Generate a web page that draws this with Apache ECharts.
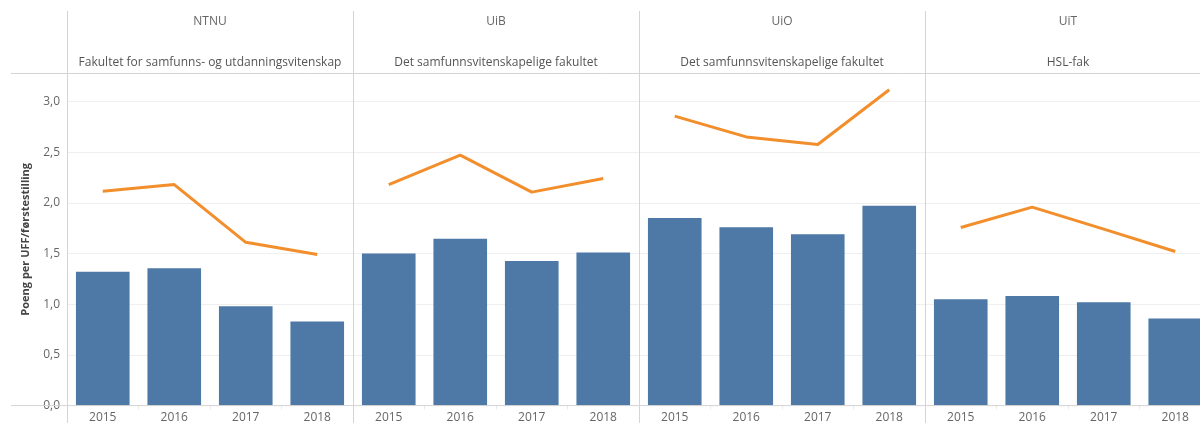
<!DOCTYPE html>
<html>
<head>
<meta charset="utf-8">
<script src="https://cdn.jsdelivr.net/npm/echarts@6/dist/echarts.min.js"></script>
<style>
  html, body { margin: 0; padding: 0; background: #fff; }
  #chart { width: 1200px; height: 423px; }
</style>
</head>
<body>
<div id="chart"></div>
<script>
// data
const institutions = ['NTNU', 'UiB', 'UiO', 'UiT']
const faculties = [
  'Fakultet for samfunns- og utdanningsvitenskap',
  'Det samfunnsvitenskapelige fakultet',
  'Det samfunnsvitenskapelige fakultet',
  'HSL-fak'
]
const years = ['2015', '2016', '2017', '2018']
// bars (blue)
const barNTNU = [1.32, 1.355, 0.98, 0.83]
const barUiB = [1.50, 1.645, 1.425, 1.51]
const barUiO = [1.85, 1.76, 1.69, 1.97]
const barUiT = [1.05, 1.08, 1.02, 0.86]
// line (orange)
const lineNTNU = [2.115, 2.18, 1.61, 1.49]
const lineUiB = [2.18, 2.47, 2.105, 2.24]
const lineUiO = [2.855, 2.65, 2.575, 3.115]
const lineUiT = [1.756, 1.957, 1.74, 1.52]
const yTicks = [0, 0.5, 1, 1.5, 2, 2.5, 3]

const bars = [barNTNU, barUiB, barUiO, barUiT]
const lines = [lineNTNU, lineUiB, lineUiO, lineUiT]

const chart = echarts.init(document.getElementById('chart'))

const panelLeft = 67
const panelWidth = 286
const plotTop = 73
const plotBottom = 405.6
const font = '"Open Sans", sans-serif'

const grids = []
const xAxes = []
const yAxes = []
const series = []
const graphics = []

institutions.forEach((inst, i) => {
  const left = panelLeft + i * panelWidth
  grids.push({
    left: left,
    top: plotTop,
    width: panelWidth,
    height: plotBottom - plotTop,
    // last panel runs past the right edge, like the reference
    outerBoundsMode: 'none',
    containLabel: false
  })
  xAxes.push({
    type: 'category',
    gridIndex: i,
    data: years,
    axisLine: { show: false },
    axisTick: { show: true, length: 4, lineStyle: { color: '#ececec' } },
    axisLabel: { color: '#666', fontSize: 12, fontFamily: font, margin: 6 }
  })
  yAxes.push({
    type: 'value',
    gridIndex: i,
    min: 0,
    max: 3.28,
    interval: 0.5,
    axisLine: { show: false },
    axisTick: { show: false },
    splitLine: {
      lineStyle: { color: '#efefef' }
    },
    axisLabel: {
      show: i === 0,
      showMaxLabel: false,
      color: '#666',
      fontSize: 12,
      fontFamily: font,
      margin: 7,
      formatter: v => (yTicks.indexOf(v) >= 0 ? v.toFixed(1).replace('.', ',') : '')
    },
    name: i === 0 ? 'Poeng per UFF/førstestilling' : '',
    nameLocation: 'middle',
    nameGap: 36,
    nameTextStyle: { color: '#444', fontSize: 11, fontWeight: 'bold', fontFamily: font }
  })
  series.push({
    name: 'bar',
    type: 'bar',
    xAxisIndex: i,
    yAxisIndex: i,
    data: bars[i],
    barCategoryGap: '25%',
    itemStyle: { color: '#4e79a7' },
    silent: true
  })
  series.push({
    name: 'line',
    type: 'line',
    xAxisIndex: i,
    yAxisIndex: i,
    data: lines[i],
    showSymbol: false,
    symbol: 'none',
    lineStyle: { color: '#f28e2b', width: 3 },
    z: 5,
    silent: true
  })
  // header texts
  graphics.push({
    type: 'text',
    x: left + panelWidth / 2,
    y: 22,
    style: {
      text: inst,
      fill: '#666',
      font: '12px ' + font,
      textAlign: 'center',
      textVerticalAlign: 'middle'
    }
  })
  graphics.push({
    type: 'text',
    x: left + panelWidth / 2,
    y: 63,
    style: {
      text: faculties[i],
      fill: '#555',
      font: '12px ' + font,
      textAlign: 'center',
      textVerticalAlign: 'middle'
    }
  })
  // panel separator
  graphics.push({
    type: 'line',
    shape: { x1: left + 0.5, y1: 11, x2: left + 0.5, y2: 423 },
    style: { stroke: '#d4d4d4', lineWidth: 1 },
    z: 10
  })
})

// header rule and axis rule
graphics.push({
  type: 'line',
  shape: { x1: 11, y1: plotTop + 0.5, x2: 1200, y2: plotTop + 0.5 },
  style: { stroke: '#d4d4d4', lineWidth: 1 },
  z: 10
})
graphics.push({
  type: 'line',
  shape: { x1: 11, y1: plotBottom, x2: 1200, y2: plotBottom },
  style: { stroke: '#d4d4d4', lineWidth: 1 },
  z: 10
})

chart.setOption({
  animation: false,
  grid: grids,
  xAxis: xAxes,
  yAxis: yAxes,
  series: series,
  graphic: graphics
})

window.addEventListener('resize', function() {
  chart.resize()
})
</script>
</body>
</html>
